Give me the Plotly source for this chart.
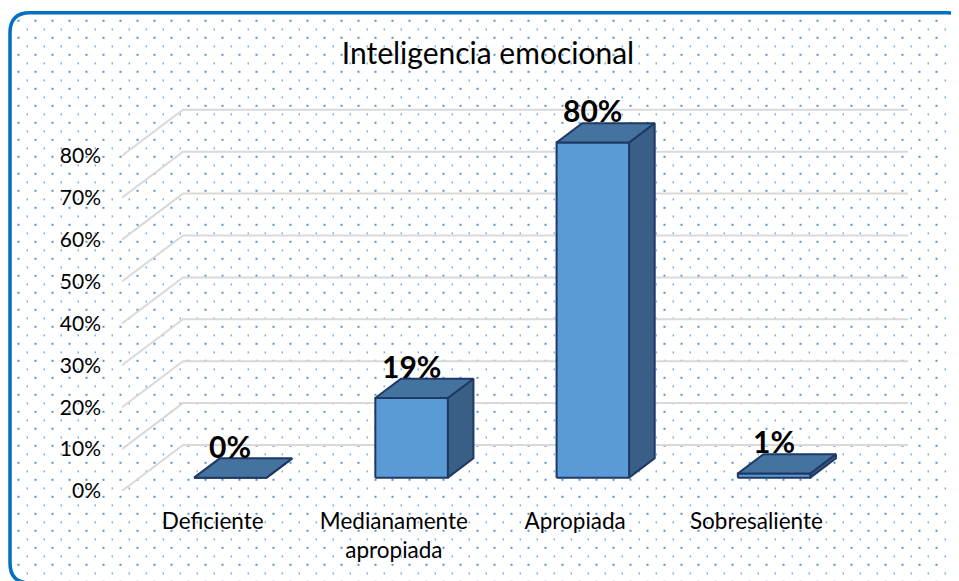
import base64
import plotly.graph_objects as go

# data
categories = ["Deficiente", "Medianamente<br>apropiada", "Apropiada", "Sobresaliente"]
values = [0, 19, 80, 1]
tick_values = [0, 10, 20, 30, 40, 50, 60, 70, 80]
tick_labels = ["0%", "10%", "20%", "30%", "40%", "50%", "60%", "70%", "80%"]

W, H = 959, 581
OFF = 8  # page body margin: figure pixel (x, y) shows at screen (x+8, y+8)

# plot area in screen pixels: x 122..908, y 95..491
ML, MT = 122 - OFF, 95 - OFF
MR, MB = W - (908 - OFF), H - (491 - OFF)
plot_w = W - ML - MR
plot_h = H - MT - MB
PX_PER_PCT = 4.19
PX_PER_CAT = plot_w / (len(categories) + 61 / 181.25)

# oblique depth of the 3d box, in data units
DX = 61 / PX_PER_CAT
DY = 46 / PX_PER_PCT
F0, F1 = 0.29, 0.71  # bar depth range
HALF = 0.2           # half bar width in categories

FRONT = "#5b9bd5"
TOP = "#44739f"
SIDE = "#3a5f87"
EDGE = "#1f3864"
GRID = "#d9d9d9"
FONT = "Lato"


def px(xs):
    # screen x -> paper x
    return (xs - OFF - ML) / plot_w


def py(ys):
    # screen y -> paper y
    return (H - MB - (ys - OFF)) / plot_h


fig = go.Figure()

# gridlines: slanted side wall + back wall
x_left = -0.5
x_right = len(categories) - 0.5
for v in tick_values:
    fig.add_trace(go.Scatter(
        x=[x_left, x_left + DX, x_right + DX],
        y=[v, v + DY, v + DY],
        mode="lines", line=dict(color=GRID, width=2),
        hoverinfo="skip", showlegend=False,
    ))


def face(xs, ys, color):
    fig.add_trace(go.Scatter(
        x=xs + [xs[0]], y=ys + [ys[0]], mode="lines", fill="toself",
        fillcolor=color, line=dict(color=EDGE, width=2),
        hoverinfo="skip", showlegend=False,
    ))


for i, v in enumerate(values):
    l, r = i - HALF, i + HALF
    ox0, oy0 = F0 * DX, F0 * DY
    ox1, oy1 = F1 * DX, F1 * DY
    # side
    face([r + ox0, r + ox1, r + ox1, r + ox0], [oy0, oy1, v + oy1, v + oy0], SIDE)
    # front
    face([l + ox0, r + ox0, r + ox0, l + ox0], [oy0, oy0, v + oy0, v + oy0], FRONT)
    # top
    face([l + ox0, r + ox0, r + ox1, l + ox1], [v + oy0, v + oy0, v + oy1, v + oy1], TOP)
    fig.add_annotation(
        x=i + ox0, y=v + oy0, xref="x", yref="y", text=f"<b>{v}%</b>",
        showarrow=False, yanchor="middle", yshift=32,
        font=dict(family=FONT, size=30, color="black"),
    )

# dotted background as an svg image (figure pixel coords)
svg = f"""<svg xmlns='http://www.w3.org/2000/svg' width='{W}' height='{H}' viewBox='0 0 {W} {H}'>
<defs>
<pattern id='p' patternUnits='userSpaceOnUse' x='0' y='0' width='17' height='17'>
<rect x='9.5' y='11.8' width='2' height='2' fill='#4f94d8'/>
<rect x='1.6' y='3.4' width='1.3' height='2' fill='#6aa6e0'/>
</pattern>
<clipPath id='c'><rect x='3' y='6' width='955' height='568' rx='19' ry='19'/></clipPath>
</defs>
<rect x='0' y='0' width='{W}' height='{H}' fill='url(#p)' clip-path='url(#c)'/>
</svg>"""
src = "data:image/svg+xml;base64," + base64.b64encode(svg.encode()).decode()
fig.add_layout_image(
    source=src, xref="paper", yref="paper", x=px(OFF), y=py(OFF),
    sizex=W / plot_w, sizey=H / plot_h, xanchor="left", yanchor="top",
    sizing="stretch", layer="below",
)

# rounded border (screen coords)
x0, x1, y0, y1, rad = 10, 967, 12.7, 583, 20
path = (
    f"M {px(x0)},{py(y0 + rad)} "
    f"Q {px(x0)},{py(y0)} {px(x0 + rad)},{py(y0)} "
    f"L {px(x1 - rad)},{py(y0)} "
    f"Q {px(x1)},{py(y0)} {px(x1)},{py(y0 + rad)} "
    f"L {px(x1)},{py(y1 - rad)} "
    f"Q {px(x1)},{py(y1)} {px(x1 - rad)},{py(y1)} "
    f"L {px(x0 + rad)},{py(y1)} "
    f"Q {px(x0)},{py(y1)} {px(x0)},{py(y1 - rad)} Z"
)
fig.add_shape(type="path", path=path, xref="paper", yref="paper",
              line=dict(color="#0070c0", width=3.5), layer="above")

fig.update_layout(
    width=W, height=H,
    margin=dict(l=ML, r=MR, t=MT, b=MB),
    paper_bgcolor="white", plot_bgcolor="rgba(0,0,0,0)",
    title=dict(text="Inteligencia emocional", x=(488 - OFF) / W, xanchor="center",
               y=1 - (53 - OFF) / H, yanchor="middle", yref="container",
               font=dict(family=FONT, size=30, color="black")),
    font=dict(family=FONT, color="black"),
    xaxis=dict(
        range=[-0.5, -0.5 + plot_w / PX_PER_CAT],
        tickvals=list(range(len(categories))), ticktext=categories,
        showgrid=False, zeroline=False, showline=False, ticks="",
        tickfont=dict(size=22.5), ticklabelstandoff=14, fixedrange=True,
    ),
    yaxis=dict(
        range=[0, plot_h / PX_PER_PCT],
        tickvals=tick_values, ticktext=tick_labels,
        showgrid=False, zeroline=False, showline=False, ticks="",
        tickfont=dict(size=21), ticklabelstandoff=20, fixedrange=True,
    ),
)

fig.write_html("out.html")
